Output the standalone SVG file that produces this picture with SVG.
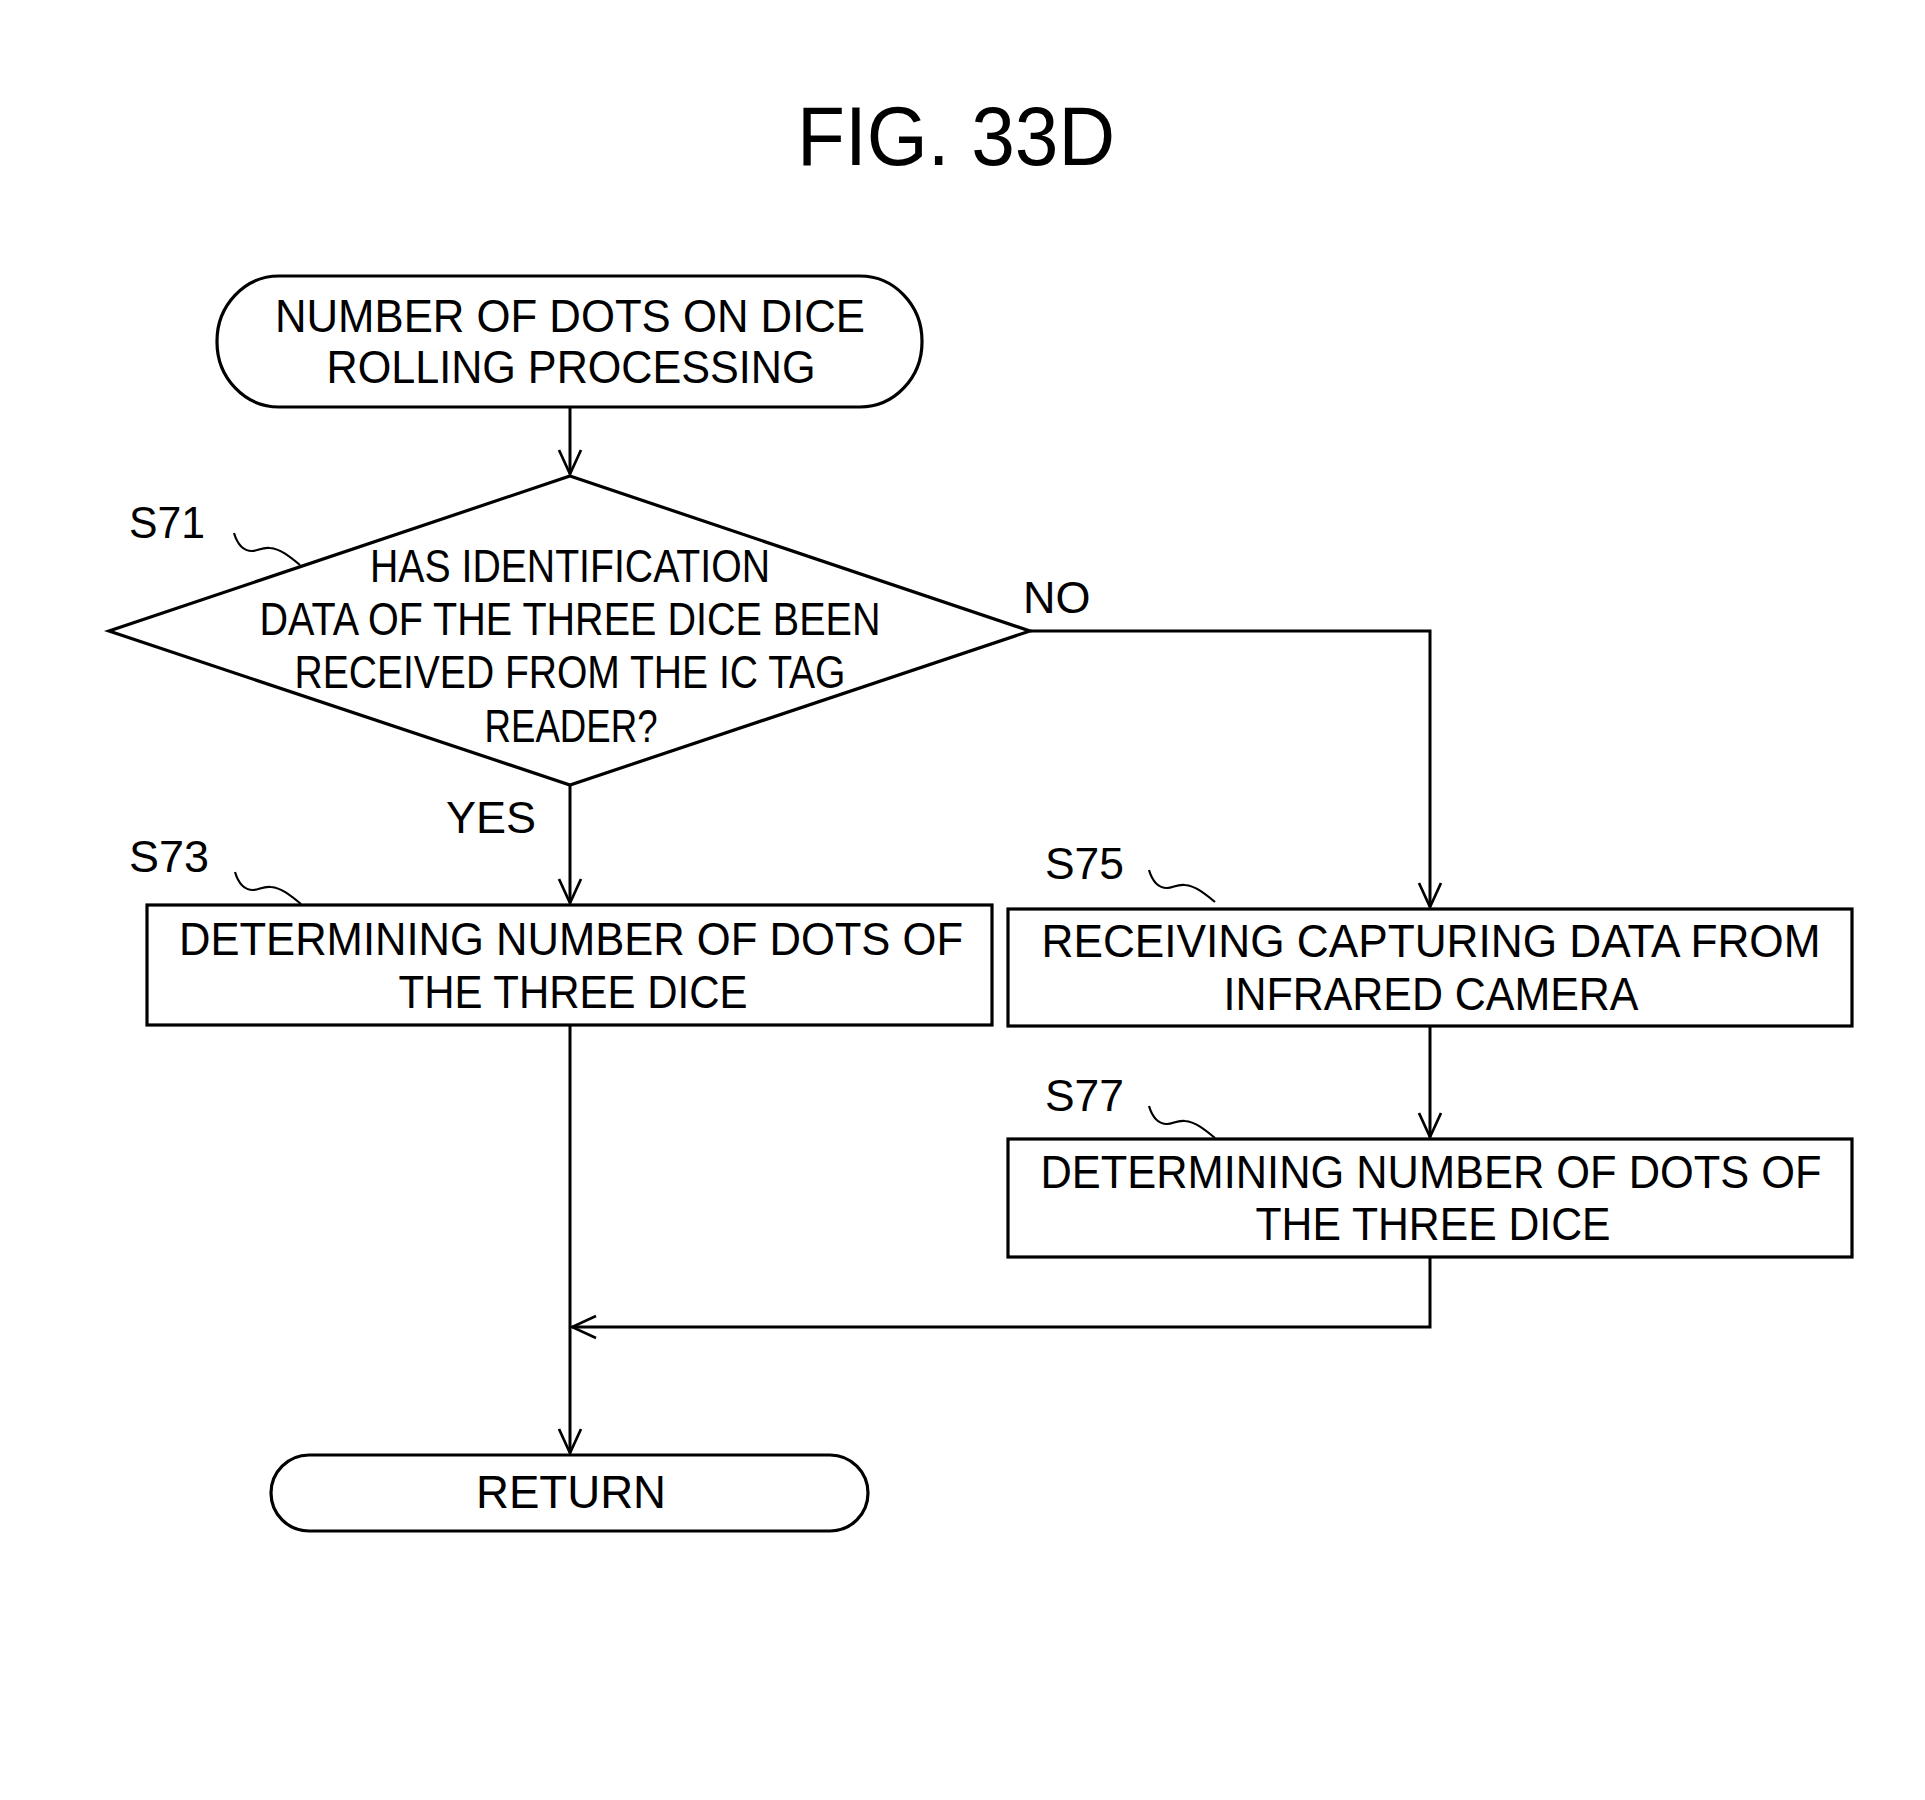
<svg xmlns="http://www.w3.org/2000/svg" width="1925" height="1800" viewBox="0 0 1925 1800">
<style>
.shape{fill:#fff;stroke:#000;stroke-width:3.2}
.line{fill:none;stroke:#000;stroke-width:3}
.t{font-family:"Liberation Sans",Arial,sans-serif;font-size:47px;fill:#000;text-anchor:middle}
.lbl{font-family:"Liberation Sans",Arial,sans-serif;font-size:45px;fill:#000}
.sq{fill:none;stroke:#000;stroke-width:2.2}
</style>
<defs>
<marker id="arr" viewBox="-27 -14 30 28" refX="0" refY="0" markerWidth="30" markerHeight="28" markerUnits="userSpaceOnUse" orient="auto">
<path d="M-24,-11 L0,0 L-24,11" fill="none" stroke="#000" stroke-width="2.7"/>
</marker>
<path id="squig" d="M0,0 C3,10 9,18 18,18 C24,18 28,14 36,15 C46,16 54,22 66,32"/>
</defs>
<rect width="1925" height="1800" fill="#fff"/>
<text x="956" y="165" font-family="'Liberation Sans',Arial,sans-serif" font-size="84" text-anchor="middle" textLength="318" lengthAdjust="spacingAndGlyphs">FIG. 33D</text>

<g id="connectors">
<path class="line" d="M570,407 V474" marker-end="url(#arr)"/>
<path class="line" d="M570,785 V903" marker-end="url(#arr)"/>
<path class="line" d="M1030,631 H1430 V907" marker-end="url(#arr)"/>
<path class="line" d="M1430,1026 V1137" marker-end="url(#arr)"/>
<path class="line" d="M570,1025 V1453" marker-end="url(#arr)"/>
<path class="line" d="M1430,1257 V1327 H572" marker-end="url(#arr)"/>
</g>

<g id="start">
<rect class="shape" x="217" y="276" width="705" height="131" rx="62" ry="65"/>
<text class="t" x="570" y="332" textLength="590" lengthAdjust="spacingAndGlyphs">NUMBER OF DOTS ON DICE</text>
<text class="t" x="571" y="383" textLength="489" lengthAdjust="spacingAndGlyphs">ROLLING PROCESSING</text>
</g>

<g id="s71">
<polygon class="shape" points="570,476 1030,631 570,785 109,631"/>
<text class="t" x="570" y="582" textLength="400" lengthAdjust="spacingAndGlyphs">HAS IDENTIFICATION</text>
<text class="t" x="570" y="635" textLength="621" lengthAdjust="spacingAndGlyphs">DATA OF THE THREE DICE BEEN</text>
<text class="t" x="570" y="688" textLength="551" lengthAdjust="spacingAndGlyphs">RECEIVED FROM THE IC TAG</text>
<text class="t" x="571" y="742" textLength="173" lengthAdjust="spacingAndGlyphs">READER?</text>
<text class="lbl" x="129" y="538" textLength="76" lengthAdjust="spacingAndGlyphs">S71</text>
<use href="#squig" class="sq" transform="translate(234,533)"/>
<text class="lbl" x="1023" y="613">NO</text>
<text class="lbl" x="446" y="833">YES</text>
</g>

<g id="s73">
<rect class="shape" x="147" y="905" width="845" height="120"/>
<text class="t" x="571" y="955" textLength="784" lengthAdjust="spacingAndGlyphs">DETERMINING NUMBER OF DOTS OF</text>
<text class="t" x="573" y="1008" textLength="349" lengthAdjust="spacingAndGlyphs">THE THREE DICE</text>
<text class="lbl" x="129" y="872" textLength="80" lengthAdjust="spacingAndGlyphs">S73</text>
<use href="#squig" class="sq" transform="translate(235,872)"/>
</g>

<g id="s75">
<rect class="shape" x="1008" y="909" width="844" height="117"/>
<text class="t" x="1431" y="957" textLength="779" lengthAdjust="spacingAndGlyphs">RECEIVING CAPTURING DATA FROM</text>
<text class="t" x="1431" y="1010" textLength="415" lengthAdjust="spacingAndGlyphs">INFRARED CAMERA</text>
<text class="lbl" x="1045" y="879" textLength="79" lengthAdjust="spacingAndGlyphs">S75</text>
<use href="#squig" class="sq" transform="translate(1149,870)"/>
</g>

<g id="s77">
<rect class="shape" x="1008" y="1139" width="844" height="118"/>
<text class="t" x="1431" y="1188" textLength="781" lengthAdjust="spacingAndGlyphs">DETERMINING NUMBER OF DOTS OF</text>
<text class="t" x="1433" y="1240" textLength="355" lengthAdjust="spacingAndGlyphs">THE THREE DICE</text>
<text class="lbl" x="1045" y="1111" textLength="79" lengthAdjust="spacingAndGlyphs">S77</text>
<use href="#squig" class="sq" transform="translate(1149,1106)"/>
</g>

<g id="return">
<rect class="shape" x="271" y="1455" width="597" height="76" rx="38" ry="38"/>
<text class="t" x="571" y="1508" textLength="190" lengthAdjust="spacingAndGlyphs">RETURN</text>
</g>
</svg>
